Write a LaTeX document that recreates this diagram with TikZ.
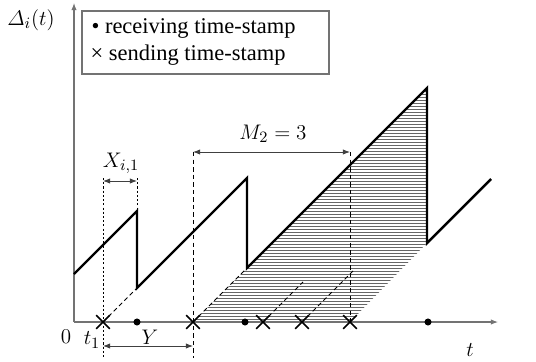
\documentclass[tikz,border=0pt]{standalone}
\usepackage{amsmath}
\usepackage{fontspec}
\setmainfont{Liberation Serif}
\usetikzlibrary{shapes.misc,arrows.meta}

\begin{document}
\begin{tikzpicture}[x=0.02cm,y=-0.02cm,line width=0.6pt,
  >={Latex[length=4pt,width=3pt]},
  axis/.style={draw=black!55,line width=0.6pt},
  saw/.style={line width=1.4pt,line join=miter},
  guide/.style={dash pattern=on 2.5pt off 1.8pt,line width=0.55pt},
  fine/.style={dash pattern=on 1.2pt off 1.2pt,line width=0.45pt},
  dimline/.style={<->,draw=black!75,line width=0.5pt},
  sendmark/.style={cross out,draw,line width=0.9pt,inner sep=0pt,
    minimum size=0.24cm},
  recvmark/.style={circle,fill,inner sep=0pt,minimum size=4pt},
  lab/.style={font=\fontsize{12.5}{14}\selectfont,inner sep=1pt},
  legend/.style={font=\fontsize{12.8}{15}\selectfont,inner sep=0pt}]
  \useasboundingbox (0,0) rectangle (536,361);

  % hatched area
  \begin{scope}
    \clip (193,322) -- (247,268) -- (427,88) -- (427,243) -- (350,322) -- cycle;
    \foreach \y in {85,88,...,323}
      \draw[black!60,line width=0.45pt] (190,\y) -- (430,\y);
  \end{scope}

  % axes
  \coordinate (O) at (74,322);
  \draw[axis,->] (O) -- (498,322);
  \draw[axis,->] (O) -- (74,3);
  \node[lab] (delta) at (31,20) {$\varDelta_i(t)$};
  \node[lab] (zero) at (66,337) {$0$};
  \node[lab] (tone) at (92,340) {$t_1$};
  \node[lab] (tlab) at (470,350) {$t$};

  % legend
  \draw[black!55] (82,11) rectangle (329,74);
  \node[legend,anchor=west] (recv) at (91,28) {• receiving time-stamp};
  \node[legend,anchor=west] (send) at (90,55) {× sending time-stamp};

  % time-stamps
  \foreach \n/\x in {1/103,2/193,3/263,4/302,5/350}
    \node[sendmark] (s\n) at (\x,322) {};
  \foreach \n/\x in {1/137,2/245,3/428}
    \node[recvmark] (r\n) at (\x,322) {};

  % guides
  \draw[fine] (103,178) -- (103,358);
  \draw[fine] (137,178) -- (137,211);
  \draw[guide] (193,152) -- (193,358);
  \draw[guide] (350,152) -- (s5.center);
  \draw[guide] (s1.center) -- (137,288);
  \draw[guide] (s2.center) -- (247,268);
  \draw[guide] (s3.center) -- (303,282);
  \draw[guide] (s4.center) -- (353,271);

  % age curve
  \draw[saw] (74,274) -- (137,211) -- (137,288) -- (247,178) -- (247,268)
    -- (427,88) -- (427,243) -- (491,179);

  % intervals
  \draw[dimline] (103,181) -- (137,181);
  \node[lab] (xlab) at (121,163) {$X_{i,1}$};
  \draw[dimline] (193,152) -- (350,152);
  \node[lab] (mlab) at (273,134) {$M_2 = 3$};
  \draw[dimline] (103,346) -- (193,346);
  \node[lab] (ylab) at (150,337) {$Y$};
\end{tikzpicture}
\end{document}
